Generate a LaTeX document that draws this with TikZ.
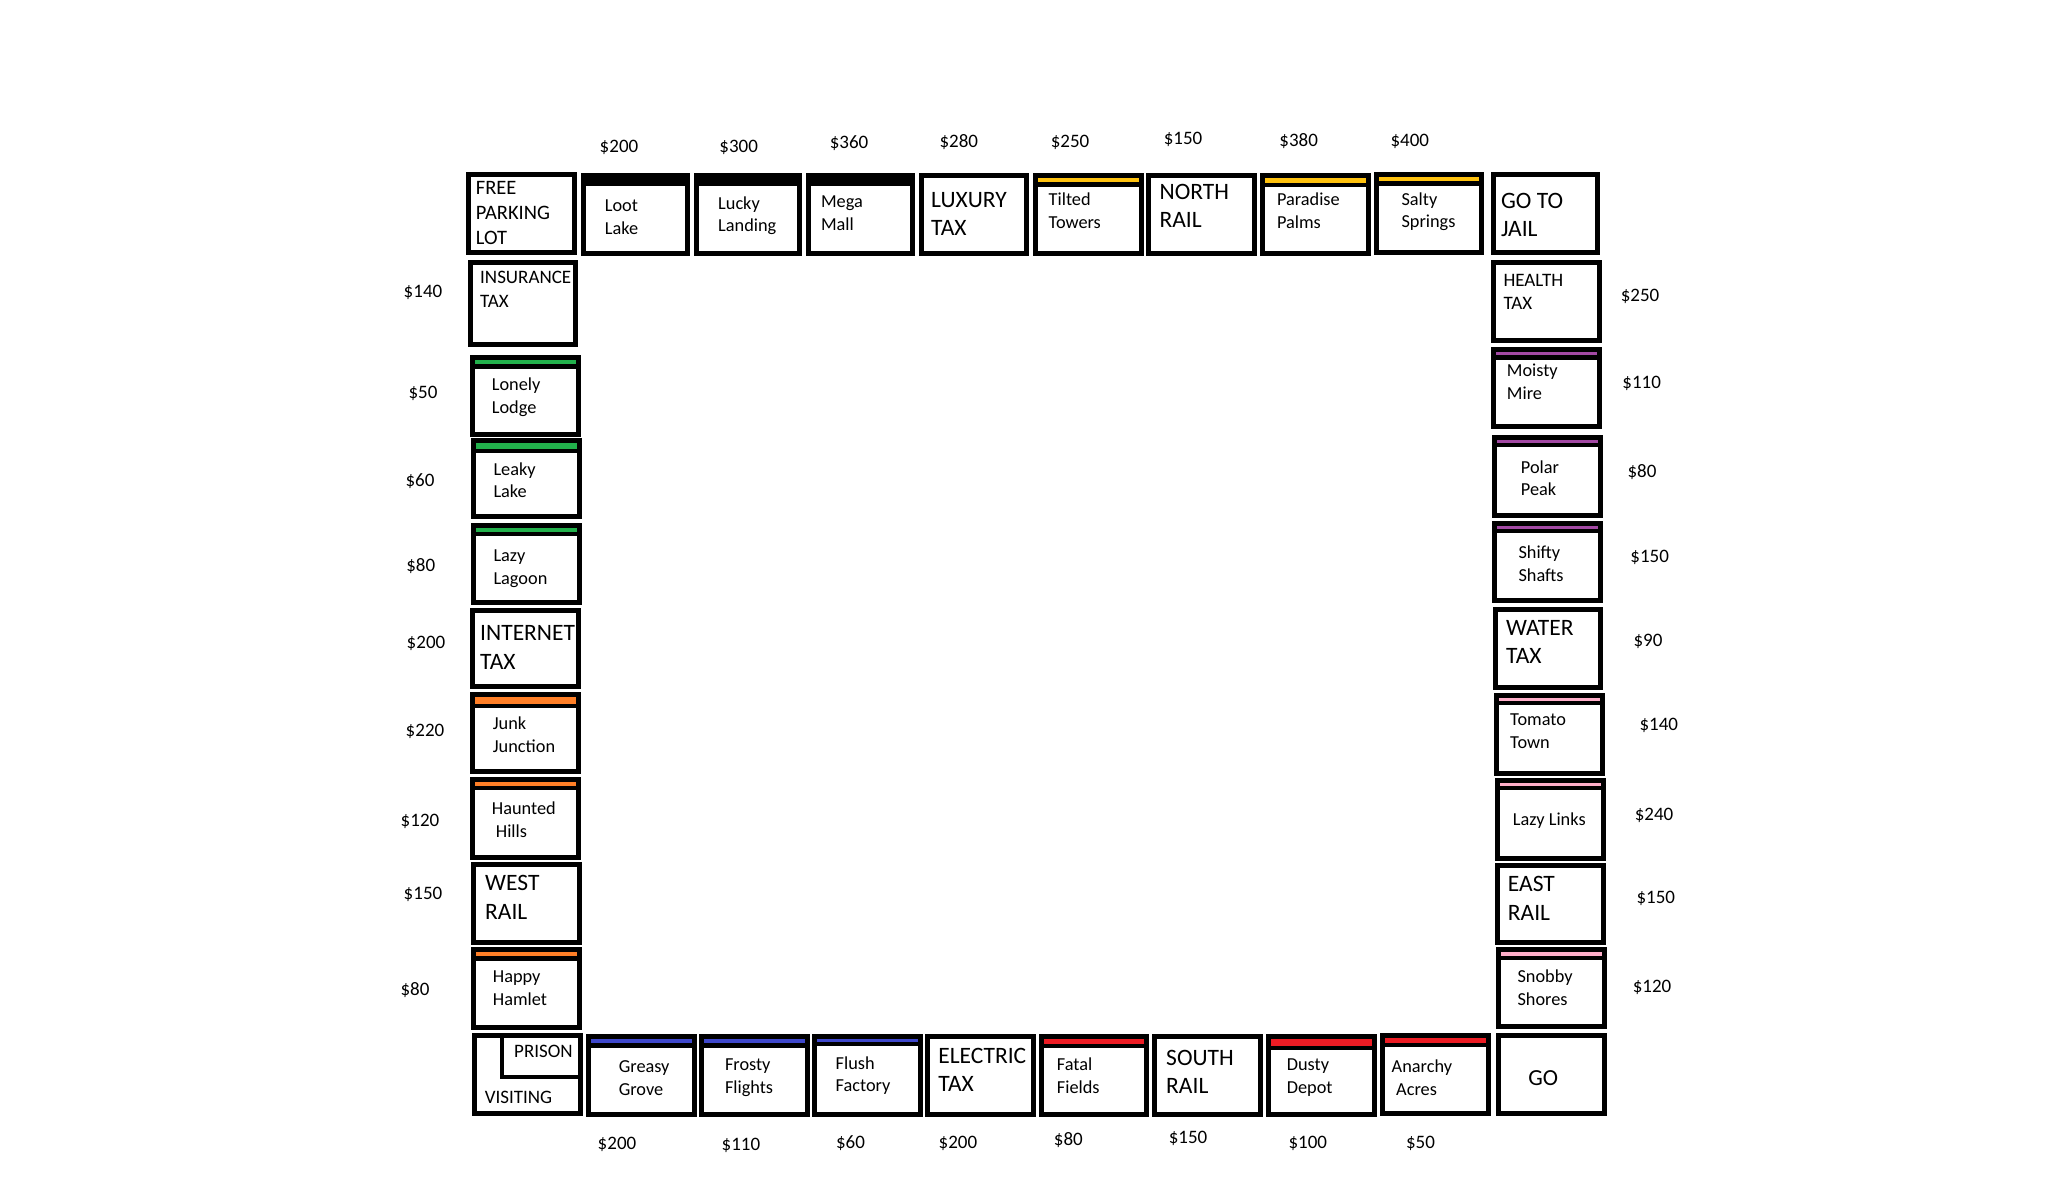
\documentclass[tikz,border=0pt]{standalone}
\usepackage{fontspec}
\setmainfont{Carlito}
\usetikzlibrary{fit}
\definecolor{cyel}{HTML}{FFC20E}
\definecolor{cgrn}{HTML}{22B14C}
\definecolor{corg}{HTML}{FF7F27}
\definecolor{cblu}{HTML}{3F48CC}
\definecolor{cred}{HTML}{ED1C24}
\definecolor{cpur}{HTML}{A349A4}
\definecolor{cpnk}{HTML}{FFAEC9}
% #1 name, #2 x0, #3 y0, #4 x1, #5 y1
\newcommand{\mtile}[5]{\node[tilebox, fit={(#2+2.5,#3+2.5) (#4-2.5,#5-2.5)}] (#1) {};}
% black header band: x0, y0, x1
\newcommand{\mbandk}[3]{\fill[black] (#1,#2) rectangle (#3,#2+13);}
% coloured header band: x0, y0, x1, colour, strip thickness
\newcommand{\mband}[5]{\fill[black] (#1,#2) rectangle (#3,#2+#5+9);\fill[#4] (#1+5,#2+4.5) rectangle (#3-5,#2+4.5+#5);}
\tikzset{
  tilebox/.style={draw=black, line width=5pt, inner sep=0pt},
  small1/.style={font=\fontsize{18.3}{22.5}\selectfont, anchor=base west, inner sep=0pt, align=left},
  small/.style={small1, yshift=-22.5pt},
  capsm1/.style={font=\fontsize{19}{23.3}\selectfont, anchor=base west, inner sep=0pt, align=left},
  capsm/.style={capsm1, yshift=-23.3pt},
  big/.style={font=\fontsize{23.5}{28.3}\selectfont, anchor=base west, inner sep=0pt, align=left, yshift=-28.3pt},
  price/.style={font=\fontsize{19}{23}\selectfont, anchor=base, inner sep=0pt},
}
\begin{document}
\begin{tikzpicture}[x=1pt,y=-1pt]
\fill[white] (0,0) rectangle (2061,1202);
\useasboundingbox (0,0) rectangle (2061,1202);

% ---------- top row ----------
\mtile{fp}{466}{172}{576.5}{255}
\mbandk{581}{172.7}{690.4}
\mtile{loot}{581}{172.7}{690.4}{256}
\mbandk{693.6}{172.7}{801.6}
\mtile{lucky}{693.6}{172.7}{801.6}{256}
\mbandk{806}{172.7}{915}
\mtile{mega}{806}{172.7}{915}{256}
\mtile{luxury}{919}{172.7}{1029.3}{256}
\mband{1033}{173.3}{1143.7}{cyel}{4.5}
\mtile{tilted}{1033}{173.3}{1143.7}{256}
\mtile{north}{1146}{172.7}{1256.7}{256}
\mband{1259.8}{173.3}{1370.5}{cyel}{5}
\mtile{paradise}{1259.8}{173.3}{1370.5}{256}
\mband{1374}{172.3}{1484.4}{cyel}{4.5}
\mtile{salty}{1374}{172.3}{1484.4}{255}
\mtile{gotojail}{1490.6}{172.3}{1600.4}{255}

\node[font=\fontsize{20.5}{25}\selectfont, anchor=base west, inner sep=0pt, align=left, yshift=-50pt] (t-fp) at (475.7,194.3) {FREE\\PARKING\\LOT};
\node[small] (t-loot) at (604.7,211.8) {Loot\\Lake};
\node[small] (t-lucky) at (718,209.1) {Lucky\\Landing};
\node[small] (t-mega) at (820.8,207.5) {Mega\\Mall};
\node[big] (t-luxury) at (931,207.6) {LUXURY\\TAX};
\node[small] (t-tilted) at (1048.5,205.8) {Tilted\\Towers};
\node[big] (t-north) at (1159.4,199.3) {NORTH\\RAIL};
\node[small] (t-paradise) at (1276.8,205.8) {Paradise\\Palms};
\node[small] (t-salty) at (1401.3,205.1) {Salty\\Springs};
\node[big] (t-gotojail) at (1500.9,208.6) {GO TO\\JAIL};

\node[price] (p-loot) at (619,152) {\$200};
\node[price] (p-lucky) at (738.7,152) {\$300};
\node[price] (p-mega) at (849,148) {\$360};
\node[price] (p-luxury) at (958.8,147.7) {\$280};
\node[price] (p-tilted) at (1070,147.7) {\$250};
\node[price] (p-north) at (1183,144) {\$150};
\node[price] (p-paradise) at (1298.7,146.7) {\$380};
\node[price] (p-salty) at (1409.8,146.7) {\$400};

% ---------- left column ----------
\mtile{insurance}{468.3}{260}{577.7}{346.7}
\mband{470}{355}{580.7}{cgrn}{4.6}
\mtile{lonely}{470}{355}{580.7}{436.7}
\mband{471}{438.3}{581.7}{cgrn}{6}
\mtile{leaky}{471}{438.3}{581.7}{519.3}
\mband{471}{522.7}{581.7}{cgrn}{4.4}
\mtile{lagoon}{471}{522.7}{581.7}{605}
\mtile{internet}{470}{608.3}{580.7}{689.3}
\mband{470}{691.7}{580.7}{corg}{7.3}
\mtile{junk}{470}{691.7}{580.7}{774}
\mband{470}{776.7}{580.7}{corg}{4.3}
\mtile{haunted}{470}{776.7}{580.7}{860}
\mtile{west}{471}{862.3}{581.7}{945}
\mband{471}{946.7}{581.7}{corg}{5}
\mtile{happy}{471}{946.7}{581.7}{1030}
\mtile{visiting}{471.7}{1032.7}{582.9}{1116}
\draw[line width=4pt] (502,1034) -- (502,1077) -- (580,1077);

\node[capsm] (t-insurance) at (480,283.8) {INSURANCE\\TAX};
\node[small] (t-lonely) at (491.7,390.8) {Lonely\\Lodge};
\node[small] (t-leaky) at (493.3,475.1) {Leaky\\Lake};
\node[small] (t-lagoon) at (493.3,561.8) {Lazy\\Lagoon};
\node[big] (t-internet) at (480,640.9) {INTERNET\\TAX};
\node[small] (t-junk) at (492.7,729.8) {Junk\\Junction};
\node[small] (t-haunted) at (491.7,814.8) {Haunted\\\hspace*{4pt}Hills};
\node[big] (t-west) at (485,890.9) {WEST\\RAIL};
\node[small] (t-happy) at (492.7,982.5) {Happy\\Hamlet};
\node[capsm1] (t-prison) at (514,1057.8) {PRISON};
\node[capsm1] (t-visiting) at (484.6,1103.4) {VISITING};

\node[price] (p-insurance) at (423,297.7) {\$140};
\node[price] (p-lonely) at (423,398.7) {\$50};
\node[price] (p-leaky) at (420,486.7) {\$60};
\node[price] (p-lagoon) at (420.8,571) {\$80};
\node[price] (p-internet) at (426,648.7) {\$200};
\node[price] (p-junk) at (425,736) {\$220};
\node[price] (p-haunted) at (420,826) {\$120};
\node[price] (p-west) at (423,899.3) {\$150};
\node[price] (p-happy) at (415,995.3) {\$80};

% ---------- bottom row ----------
\mband{586.4}{1034}{697.1}{cblu}{4.7}
\mtile{greasy}{586.4}{1034}{697.1}{1116.7}
\mband{699}{1034}{809.6}{cblu}{4.7}
\mtile{frosty}{699}{1034}{809.6}{1116.7}
\mband{811.9}{1034}{922.6}{cblu}{3}
\mtile{flush}{811.9}{1034}{922.6}{1116.7}
\mtile{electric}{924.8}{1034}{1036}{1116.7}
\mband{1038.6}{1034}{1149.1}{cred}{5}
\mtile{fatal}{1038.6}{1034}{1149.1}{1116.7}
\mtile{south}{1151.8}{1034}{1262.9}{1116.7}
\mband{1266}{1034}{1376.8}{cred}{7}
\mtile{dusty}{1266}{1034}{1376.8}{1116.7}
\mband{1379.5}{1032.7}{1491}{cred}{5.6}
\mtile{anarchy}{1379.5}{1032.7}{1491}{1116}
\mtile{go}{1495.5}{1032.7}{1607}{1116}

\node[small] (t-greasy) at (618.6,1072.5) {Greasy\\Grove};
\node[small] (t-frosty) at (724.8,1070.8) {Frosty\\Flights};
\node[small] (t-flush) at (835.5,1069.1) {Flush\\Factory};
\node[big] (t-electric) at (938.2,1063.6) {ELECTRIC\\TAX};
\node[small] (t-fatal) at (1056.7,1070.8) {Fatal\\Fields};
\node[big] (t-south) at (1166,1065.3) {SOUTH\\RAIL};
\node[small] (t-dusty) at (1286.6,1070.8) {Dusty\\Depot};
\node[small] (t-anarchy) at (1391.5,1072.5) {Anarchy\\\hspace*{4.5pt}Acres};
\node[font=\fontsize{23}{28}\selectfont, anchor=base, inner sep=0pt] (t-go) at (1543.3,1085.9) {GO};

\node[price] (p-greasy) at (617,1149.3) {\$200};
\node[price] (p-frosty) at (740.9,1150) {\$110};
\node[price] (p-flush) at (850.5,1148.3) {\$60};
\node[price] (p-electric) at (957.9,1148.3) {\$200};
\node[price] (p-fatal) at (1068.3,1145) {\$80};
\node[price] (p-south) at (1188,1143.7) {\$150};
\node[price] (p-dusty) at (1307.8,1148.7) {\$100};
\node[price] (p-anarchy) at (1420.5,1148.3) {\$50};

% ---------- right column ----------
\mtile{health}{1491}{260}{1601.7}{342.7}
\mband{1491}{347.3}{1601.7}{cpur}{3.4}
\mtile{moisty}{1491}{347.3}{1601.7}{429.3}
\mband{1492}{435}{1602.7}{cpur}{3.4}
\mtile{polar}{1492}{435}{1602.7}{517.7}
\mband{1492}{521}{1602.7}{cpur}{3.4}
\mtile{shifty}{1492}{521}{1602.7}{603.3}
\mtile{water}{1493.3}{606.7}{1603.3}{690}
\mband{1494.3}{693.3}{1605}{cpnk}{2.8}
\mtile{tomato}{1494.3}{693.3}{1605}{775.7}
\mband{1495}{778.3}{1606}{cpnk}{2.8}
\mtile{lazylinks}{1495}{778.3}{1606}{860.7}
\mtile{east}{1495}{862.7}{1606}{945}
\mband{1496}{946.7}{1606.7}{cpnk}{4.6}
\mtile{snobby}{1496}{946.7}{1606.7}{1029.3}

\node[capsm] (t-health) at (1503.3,286.1) {HEALTH\\TAX};
\node[small] (t-moisty) at (1506.7,376.5) {Moisty\\Mire};
\node[small] (t-polar) at (1520.7,473.1) {Polar\\Peak};
\node[small] (t-shifty) at (1518.3,558.5) {Shifty\\Shafts};
\node[big] (t-water) at (1506,635.3) {WATER\\TAX};
\node[small] (t-tomato) at (1510,725.8) {Tomato\\Town};
\node[small1] (t-lazylinks) at (1512.7,825.8) {Lazy Links};
\node[big] (t-east) at (1507.7,891.9) {EAST\\RAIL};
\node[small] (t-snobby) at (1517.3,982.5) {Snobby\\Shores};

\node[price] (p-health) at (1640,301) {\$250};
\node[price] (p-moisty) at (1641.7,388.3) {\$110};
\node[price] (p-polar) at (1642,477.7) {\$80};
\node[price] (p-shifty) at (1649.7,562) {\$150};
\node[price] (p-water) at (1648,646.7) {\$90};
\node[price] (p-tomato) at (1658.8,730) {\$140};
\node[price] (p-lazylinks) at (1654,820) {\$240};
\node[price] (p-east) at (1655.8,903.3) {\$150};
\node[price] (p-snobby) at (1652,992.7) {\$120};
\end{tikzpicture}
\end{document}
